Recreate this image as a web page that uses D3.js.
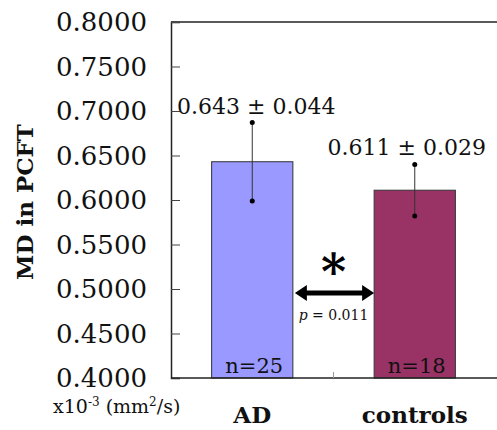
<!DOCTYPE html>
<html>
<head>
<meta charset="utf-8">
<script src="https://cdn.jsdelivr.net/npm/d3@7"></script>
<style>
  html, body { margin: 0; padding: 0; background: #fff; }
  svg { display: block; font-family: "DejaVu Serif", "Liberation Serif", serif; }
</style>
</head>
<body>
<div id="chart"></div>
<script>
// data
const groups = ["AD", "controls"];
const means = [0.643, 0.611];
const sds = [0.044, 0.029];
const counts = [25, 18];
const barColors = ["#9999ff", "#993366"];
const yTicks = [0.40, 0.45, 0.50, 0.55, 0.60, 0.65, 0.70, 0.75, 0.80];
const pValue = 0.011;

const width = 497, height = 430;
const margin = { top: 22, right: 1, bottom: 52, left: 171 };

const svg = d3.select("#chart").append("svg")
  .attr("width", width)
  .attr("height", height);

const y = d3.scaleLinear().domain([0.4, 0.8]).range([height - margin.bottom, margin.top]);
const x = d3.scaleBand().domain(groups)
  .range([margin.left, width - margin.right])
  .paddingInner(0.5).paddingOuter(0.25);

const rows = groups.map((g, i) => ({ g, mean: means[i], sd: sds[i], n: counts[i], color: barColors[i] }));

// frame: top line across, left axis, bottom axis
svg.append("line")
  .attr("x1", margin.left).attr("x2", width)
  .attr("y1", y(0.8)).attr("y2", y(0.8))
  .attr("stroke", "#222").attr("stroke-width", 1.5);

// bars
svg.selectAll("rect.bar").data(rows).join("rect")
  .attr("class", "bar")
  .attr("x", d => x(d.g))
  .attr("width", x.bandwidth())
  .attr("y", d => y(d.mean))
  .attr("height", d => y(0.4) - y(d.mean))
  .attr("fill", d => d.color)
  .attr("stroke", "#333").attr("stroke-width", 1);

// y axis, ticks pointing inward
const yAxis = svg.append("g")
  .attr("transform", `translate(${margin.left},0)`)
  .call(d3.axisRight(y).tickValues(yTicks).tickSize(9).tickFormat(""));
yAxis.select(".domain").attr("stroke", "#222").attr("stroke-width", 1.5);
yAxis.selectAll(".tick line").attr("stroke", "#444");

svg.selectAll("text.ytick").data(yTicks).join("text")
  .attr("class", "ytick")
  .attr("x", margin.left - 24)
  .attr("y", d => y(d))
  .attr("dy", "0.36em")
  .attr("text-anchor", "end")
  .attr("font-size", 26)
  .attr("fill", "#111")
  .text(d => d3.format(".4f")(d));

// x axis
svg.append("line")
  .attr("x1", margin.left).attr("x2", width)
  .attr("y1", y(0.4)).attr("y2", y(0.4))
  .attr("stroke", "#222").attr("stroke-width", 1.5);

// little tick between the groups
const midX = (x(groups[0]) + x.bandwidth() + x(groups[1])) / 2;
svg.append("line")
  .attr("x1", midX).attr("x2", midX)
  .attr("y1", y(0.4)).attr("y2", y(0.4) - 6)
  .attr("stroke", "#999").attr("stroke-width", 1);

// category labels
svg.selectAll("text.cat").data(rows).join("text")
  .attr("class", "cat")
  .attr("x", d => x(d.g) + x.bandwidth() / 2)
  .attr("y", height - 7)
  .attr("text-anchor", "middle")
  .attr("font-size", 23)
  .attr("font-weight", "bold")
  .attr("fill", "#111")
  .text(d => d.g);

// error bars
const cx = d => x(d.g) + x.bandwidth() / 2;
svg.selectAll("line.err").data(rows).join("line")
  .attr("class", "err")
  .attr("x1", cx).attr("x2", cx)
  .attr("y1", d => y(d.mean + d.sd))
  .attr("y2", d => y(d.mean - d.sd))
  .attr("stroke", "#333").attr("stroke-width", 1);
svg.selectAll("circle.errTop").data(rows).join("circle")
  .attr("class", "errTop")
  .attr("cx", cx).attr("cy", d => y(d.mean + d.sd)).attr("r", 2.5).attr("fill", "#000");
svg.selectAll("circle.errBot").data(rows).join("circle")
  .attr("class", "errBot")
  .attr("cx", cx).attr("cy", d => y(d.mean - d.sd)).attr("r", 2.5).attr("fill", "#000");

// mean ± sd labels
const labelShift = [4, -8];
svg.selectAll("text.val").data(rows).join("text")
  .attr("class", "val")
  .attr("x", (d, i) => cx(d) + labelShift[i])
  .attr("y", d => y(d.mean + d.sd) - 9)
  .attr("text-anchor", "middle")
  .attr("font-size", 22)
  .attr("fill", "#111")
  .text(d => `${d.mean.toFixed(3)} \u00b1 ${d.sd.toFixed(3)}`);

// n labels inside bars
svg.selectAll("text.n").data(rows).join("text")
  .attr("class", "n")
  .attr("x", d => cx(d) + 2)
  .attr("y", y(0.4) - 5)
  .attr("text-anchor", "middle")
  .attr("font-size", 21)
  .attr("fill", "#111")
  .text(d => `n=${d.n}`);

// significance: double arrow between bars, asterisk, p value
const ax0 = x(groups[0]) + x.bandwidth() + 2;
const ax1 = x(groups[1]);
const ay = y(0.4955);
const head = 12, hw = 8, shaft = 2.6;
svg.append("path")
  .attr("d", `M${ax0},${ay} L${ax0 + head},${ay - hw} L${ax0 + head},${ay - shaft}
    L${ax1 - head},${ay - shaft} L${ax1 - head},${ay - hw} L${ax1},${ay}
    L${ax1 - head},${ay + hw} L${ax1 - head},${ay + shaft} L${ax0 + head},${ay + shaft}
    L${ax0 + head},${ay + hw} Z`)
  .attr("fill", "#000");

svg.append("text")
  .attr("x", midX)
  .attr("y", ay - 4)
  .attr("text-anchor", "middle")
  .attr("font-size", 48)
  .attr("font-weight", "bold")
  .attr("fill", "#000")
  .text("*");

const pText = svg.append("text")
  .attr("x", midX)
  .attr("y", ay + 27)
  .attr("text-anchor", "middle")
  .attr("font-size", 14)
  .attr("fill", "#111");
pText.append("tspan").attr("font-style", "italic").text("p");
pText.append("tspan").text(` = ${pValue}`);

// y axis title
svg.append("text")
  .attr("transform", "translate(33,202) rotate(-90)")
  .attr("text-anchor", "middle")
  .attr("font-size", 23)
  .attr("font-weight", "bold")
  .attr("fill", "#111")
  .text("MD in PCFT");

// unit label
const unit = svg.append("text")
  .attr("x", 53)
  .attr("y", 413)
  .attr("font-size", 19)
  .attr("fill", "#111");
unit.append("tspan").text("x10");
unit.append("tspan").attr("font-size", 12).attr("dy", -7).text("-3");
unit.append("tspan").attr("dy", 7).text(" (mm");
unit.append("tspan").attr("font-size", 12).attr("dy", -7).text("2");
unit.append("tspan").attr("dy", 7).text("/s)");
</script>
</body>
</html>
